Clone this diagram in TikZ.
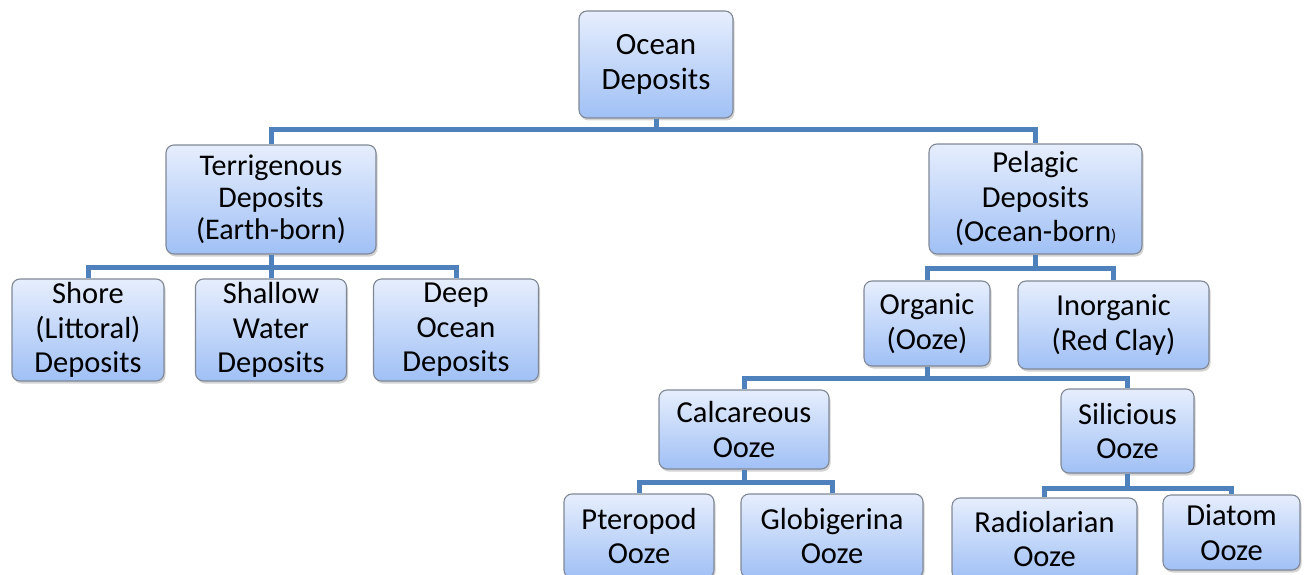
\documentclass[tikz,border=0pt]{standalone}
\usepackage{fontspec}
\setmainfont{Carlito}
\usetikzlibrary{shadows}
\definecolor{conncol}{RGB}{79,129,189}
\definecolor{boxtop}{RGB}{230,238,253}
\definecolor{boxbot}{RGB}{160,192,245}
\definecolor{boxedge}{RGB}{128,136,150}
\begin{document}
\begin{tikzpicture}[x=1pt,y=-1pt,
  box/.style={draw=boxedge, line width=1.1pt, rounded corners=8pt,
    top color=boxtop, bottom color=boxbot, align=center, inner sep=0pt,
    font=\fontsize{30.5}{34.5}\selectfont,
    drop shadow={opacity=0.35, shadow xshift=1.5pt, shadow yshift=-2.5pt}},
  conn/.style={draw=conncol, line width=5pt, line join=miter}]
\useasboundingbox (0,0) rectangle (1311,575);
% connectors
\coordinate (b1) at (656,130);
\coordinate (b2) at (271,267);
\coordinate (b3) at (1035.5,268);
\coordinate (b4) at (927,378);
\coordinate (b5) at (744,482);
\coordinate (b6) at (1127.5,488);
% nodes
\node[box, minimum width=154pt, minimum height=107pt, font=\fontsize{31}{35}\selectfont] (ocean) at (656,64.5) {Ocean\\Deposits};
\node[box, minimum width=210pt, minimum height=109pt, font=\fontsize{30}{32}\selectfont] (terr) at (271,199.5) {Terrigenous\\Deposits\\(Earth-born)};
\node[box, minimum width=213pt, minimum height=110pt] (pel) at (1035.5,199) {Pelagic\\Deposits\\(Ocean-born{\fontsize{17}{17}\selectfont )}};
\node[box, minimum width=152pt, minimum height=102pt] (shore) at (88,330) {Shore\\(Littoral)\\Deposits};
\node[box, minimum width=151pt, minimum height=102pt] (shallow) at (271,330) {Shallow\\Water\\Deposits};
\node[box, minimum width=165pt, minimum height=102pt] (deep) at (456,330) {Deep\\Ocean\\Deposits};
\node[box, minimum width=126pt, minimum height=85pt] (org) at (927,323.5) {Organic\\(Ooze)};
\node[box, minimum width=191pt, minimum height=88pt] (inorg) at (1113.5,325) {Inorganic\\(Red Clay)};
\node[box, minimum width=170pt, minimum height=79pt] (calc) at (744,429.5) {Calcareous\\Ooze};
\node[box, minimum width=133pt, minimum height=84pt] (sil) at (1127.5,431) {Silicious\\Ooze};
\node[box, minimum width=150pt, minimum height=84pt] (ptero) at (639,536) {Pteropod\\Ooze};
\node[box, minimum width=182pt, minimum height=84pt] (glob) at (832,536) {Globigerina\\Ooze};
\node[box, minimum width=185pt, minimum height=82pt] (radio) at (1044.5,539) {Radiolarian\\Ooze};
\node[box, minimum width=137pt, minimum height=75pt] (diatom) at (1231.5,532.5) {Diatom\\Ooze};
% lines
\draw[conn] (ocean.south) -- (b1);
\draw[conn] (terr.north) |- (b1) -| (pel.north);
\draw[conn] (terr.south) -- (b2);
\draw[conn] (shore.north) |- (b2) -| (deep.north);
\draw[conn] (b2) -- (shallow.north);
\draw[conn] (pel.south) -- (b3);
\draw[conn] (org.north) |- (b3) -| (inorg.north);
\draw[conn] (org.south) -- (b4);
\draw[conn] (calc.north) |- (b4) -| (sil.north);
\draw[conn] (calc.south) -- (b5);
\draw[conn] (ptero.north) |- (b5) -| (glob.north);
\draw[conn] (sil.south) -- (b6);
\draw[conn] (radio.north) |- (b6) -| (diatom.north);
\end{tikzpicture}
\end{document}
